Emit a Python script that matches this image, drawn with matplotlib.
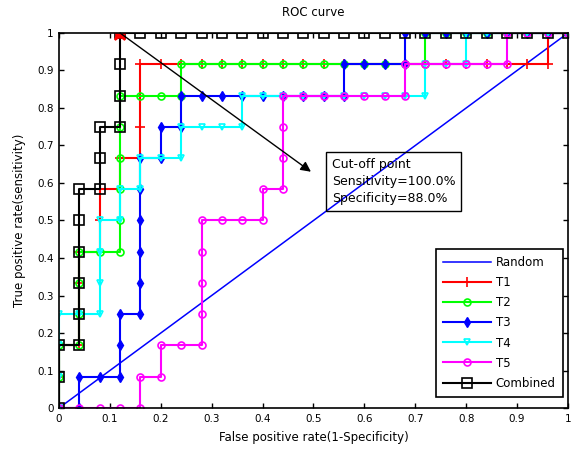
import matplotlib
matplotlib.use("Agg")
import matplotlib.pyplot as plt

# ROC points (false positive rate, true positive rate) per test
fpr_t1 = [0, 0, 0, 0.04, 0.04, 0.04, 0.04, 0.08, 0.08, 0.08, 0.12, 0.12, 0.16, 0.16, 0.16, 0.16,
          0.20, 0.24, 0.28, 0.32, 0.36, 0.40, 0.44, 0.48, 0.52, 0.56, 0.60, 0.64, 0.68, 0.72,
          0.76, 0.80, 0.84, 0.88, 0.92, 0.96, 0.96, 1.00]
tpr_t1 = [0, 0.083, 0.167, 0.167, 0.25, 0.333, 0.417, 0.417, 0.5, 0.583, 0.583, 0.667, 0.667, 0.75, 0.833, 0.917,
          0.917, 0.917, 0.917, 0.917, 0.917, 0.917, 0.917, 0.917, 0.917, 0.917, 0.917, 0.917, 0.917, 0.917,
          0.917, 0.917, 0.917, 0.917, 0.917, 0.917, 1, 1]

fpr_t2 = [0, 0, 0, 0.04, 0.04, 0.04, 0.04, 0.08, 0.12, 0.12, 0.12, 0.12, 0.12, 0.12, 0.16, 0.20, 0.24, 0.24,
          0.28, 0.32, 0.36, 0.40, 0.44, 0.48, 0.52, 0.56, 0.60, 0.64, 0.68, 0.72, 0.72,
          0.76, 0.80, 0.84, 0.88, 0.92, 0.96, 1.00]
tpr_t2 = [0, 0.083, 0.167, 0.167, 0.25, 0.333, 0.417, 0.417, 0.417, 0.5, 0.583, 0.667, 0.75, 0.833, 0.833, 0.833, 0.833, 0.917,
          0.917, 0.917, 0.917, 0.917, 0.917, 0.917, 0.917, 0.917, 0.917, 0.917, 0.917, 0.917, 1,
          1, 1, 1, 1, 1, 1, 1]

fpr_t3 = [0, 0.04, 0.04, 0.08, 0.12, 0.12, 0.12, 0.16, 0.16, 0.16, 0.16, 0.16, 0.16, 0.20, 0.20, 0.24, 0.24,
          0.28, 0.32, 0.36, 0.40, 0.44, 0.48, 0.52, 0.56, 0.56, 0.60, 0.64, 0.68, 0.68,
          0.72, 0.76, 0.80, 0.84, 0.88, 0.92, 0.96, 1.00]
tpr_t3 = [0, 0, 0.083, 0.083, 0.083, 0.167, 0.25, 0.25, 0.333, 0.417, 0.5, 0.583, 0.667, 0.667, 0.75, 0.75, 0.833,
          0.833, 0.833, 0.833, 0.833, 0.833, 0.833, 0.833, 0.833, 0.917, 0.917, 0.917, 0.917, 1,
          1, 1, 1, 1, 1, 1, 1, 1]

fpr_t4 = [0, 0, 0, 0, 0.04, 0.08, 0.08, 0.08, 0.08, 0.12, 0.12, 0.16, 0.16, 0.20, 0.24, 0.24, 0.28, 0.32, 0.36, 0.36,
          0.40, 0.44, 0.48, 0.52, 0.56, 0.60, 0.64, 0.68, 0.72, 0.72, 0.76, 0.80, 0.80,
          0.84, 0.88, 0.92, 0.96, 1.00]
tpr_t4 = [0, 0.083, 0.167, 0.25, 0.25, 0.25, 0.333, 0.417, 0.5, 0.5, 0.583, 0.583, 0.667, 0.667, 0.667, 0.75, 0.75, 0.75, 0.75, 0.833,
          0.833, 0.833, 0.833, 0.833, 0.833, 0.833, 0.833, 0.833, 0.833, 0.917, 0.917, 0.917, 1,
          1, 1, 1, 1, 1]

fpr_t5 = [0, 0.04, 0.08, 0.12, 0.16, 0.16, 0.20, 0.20, 0.24, 0.28, 0.28, 0.28, 0.28, 0.28, 0.32, 0.36, 0.40, 0.40,
          0.44, 0.44, 0.44, 0.44, 0.48, 0.52, 0.56, 0.60, 0.64, 0.68, 0.68, 0.72, 0.76, 0.80, 0.84, 0.88, 0.88,
          0.92, 0.96, 1.00]
tpr_t5 = [0, 0, 0, 0, 0, 0.083, 0.083, 0.167, 0.167, 0.167, 0.25, 0.333, 0.417, 0.5, 0.5, 0.5, 0.5, 0.583,
          0.583, 0.667, 0.75, 0.833, 0.833, 0.833, 0.833, 0.833, 0.833, 0.833, 0.917, 0.917, 0.917, 0.917, 0.917, 0.917, 1,
          1, 1, 1]

fpr_comb = [0, 0, 0, 0.04, 0.04, 0.04, 0.04, 0.04, 0.04, 0.08, 0.08, 0.08, 0.12, 0.12, 0.12, 0.12,
            0.16, 0.20, 0.24, 0.28, 0.32, 0.36, 0.40, 0.44, 0.48, 0.52, 0.56, 0.60, 0.64, 0.68, 0.72,
            0.76, 0.80, 0.84, 0.88, 0.92, 0.96, 1.00]
tpr_comb = [0, 0.083, 0.167, 0.167, 0.25, 0.333, 0.417, 0.5, 0.583, 0.583, 0.667, 0.75, 0.75, 0.833, 0.917, 1,
            1, 1, 1, 1, 1, 1, 1, 1, 1, 1, 1, 1, 1, 1, 1,
            1, 1, 1, 1, 1, 1, 1]

# best cut-off of the combined test
cutoff_fpr = 0.12
cutoff_tpr = 1.0
sensitivity = 100.0
specificity = 88.0

plt.rcParams["font.family"] = "DejaVu Sans"
plt.rcParams["font.size"] = 9

fig = plt.figure(figsize=(5.71, 4.5), dpi=100)
ax = fig.add_axes([0.1033, 0.0933, 0.8914, 0.8334])

ax.plot([0, 1], [0, 1], color="#0000ff", lw=1.1, label="Random")
ax.plot(fpr_t1, tpr_t1, color="#ff0000", lw=1.5, marker="+", ms=7, mew=1.2, label="T1")
ax.plot(fpr_t2, tpr_t2, color="#00ff00", lw=1.5, marker="o", ms=5, mfc="none", mew=1.2, label="T2")
ax.plot(fpr_t3, tpr_t3, color="#0000ff", lw=1.5, marker="d", ms=5, mew=1.0, label="T3")
ax.plot(fpr_t4, tpr_t4, color="#00ffff", lw=1.5, marker="v", ms=5, mfc="none", mew=1.2, label="T4")
ax.plot(fpr_t5, tpr_t5, color="#ff00ff", lw=1.5, marker="o", ms=5, mfc="none", mew=1.2, label="T5")
ax.plot(fpr_comb, tpr_comb, color="black", lw=1.5, marker="s", ms=6.5, mfc="none", mew=1.2, label="Combined")

ax.plot(cutoff_fpr, cutoff_tpr, marker="*", ms=12, color="#ff0000", mec="#ff0000", mew=1.5)
ax.plot(cutoff_fpr, cutoff_tpr, marker="o", ms=6.5, color="#ff0000", mec="#ff0000")

ax.annotate("", xy=(0.495, 0.63), xytext=(cutoff_fpr, cutoff_tpr),
            arrowprops=dict(arrowstyle="-|>", color="black", lw=1.0, mutation_scale=15,
                            shrinkA=0, shrinkB=0))
ax.text(0.536, 0.604, "Cut-off point\nSensitivity=%.1f%%\nSpecificity=%.1f%%" % (sensitivity, specificity),
        fontsize=9, va="center", ha="left", linespacing=1.4,
        bbox=dict(boxstyle="square,pad=0.45", fc="none", ec="black", lw=1.0))

ax.set_xlim(0, 1)
ax.set_ylim(0, 1)
ax.set_xticks([0, 0.1, 0.2, 0.3, 0.4, 0.5, 0.6, 0.7, 0.8, 0.9, 1])
ax.set_yticks([0, 0.1, 0.2, 0.3, 0.4, 0.5, 0.6, 0.7, 0.8, 0.9, 1])
ax.set_xticklabels(["0", "0.1", "0.2", "0.3", "0.4", "0.5", "0.6", "0.7", "0.8", "0.9", "1"])
ax.set_yticklabels(["0", "0.1", "0.2", "0.3", "0.4", "0.5", "0.6", "0.7", "0.8", "0.9", "1"])
ax.tick_params(direction="in", top=True, right=True, length=3.5, width=1.0, labelsize=7.5, pad=4)
for spine in ax.spines.values():
    spine.set_linewidth(1.2)

ax.set_title("ROC curve", fontsize=8.5, pad=12)
ax.set_xlabel("False positive rate(1-Specificity)", fontsize=8.5, labelpad=5)
ax.set_ylabel("True positive rate(sensitivity)", fontsize=8.5, labelpad=8)

leg = ax.legend(loc="lower right", bbox_to_anchor=(0.99, 0.03), borderaxespad=0,
                fontsize=8.5, handlelength=4.1, labelspacing=0.6, fancybox=False,
                framealpha=1, edgecolor="black", borderpad=0.6, handletextpad=0.4)
leg.get_frame().set_linewidth(1.2)

fig.savefig("out.png", dpi=100)
